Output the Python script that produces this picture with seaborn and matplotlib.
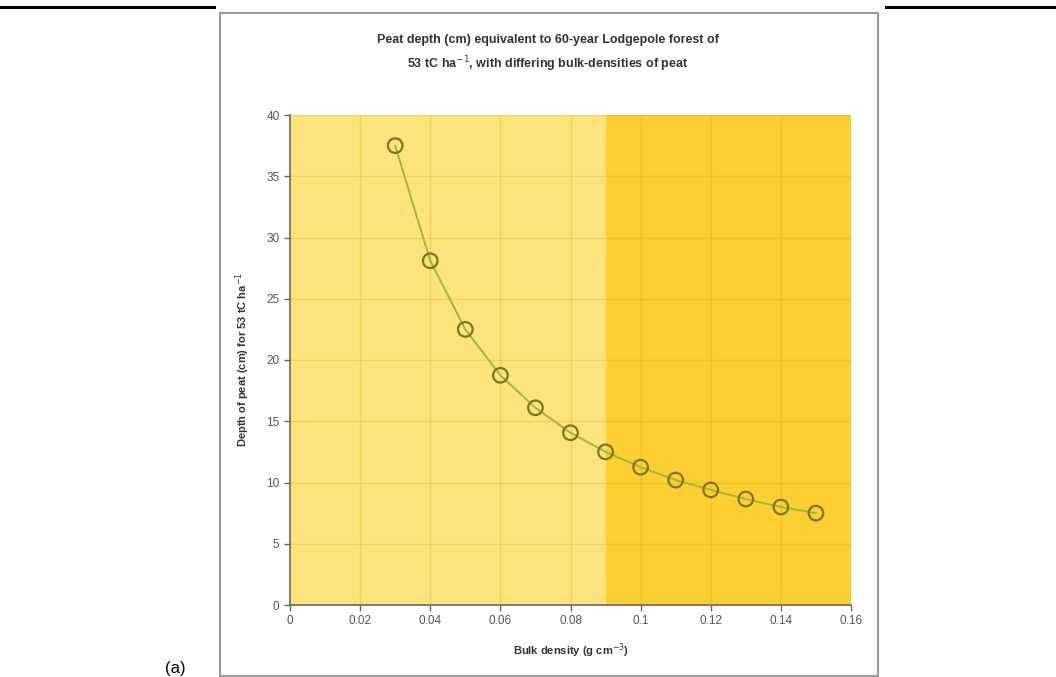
import matplotlib
matplotlib.use("Agg")
import matplotlib.pyplot as plt
import seaborn as sns
import pandas as pd
from matplotlib.patches import Rectangle
from matplotlib.lines import Line2D

# values
bulk_density = [0.03, 0.04, 0.05, 0.06, 0.07, 0.08, 0.09, 0.10, 0.11, 0.12, 0.13, 0.14, 0.15]
peat_depth = [37.5, 28.1, 22.5, 18.75, 16.1, 14.06, 12.5, 11.25, 10.2, 9.4, 8.65, 8.0, 7.5]
x_ticks = [0, 0.02, 0.04, 0.06, 0.08, 0.1, 0.12, 0.14, 0.16]
x_tick_labels = ["0", "0.02", "0.04", "0.06", "0.08", "0.1", "0.12", "0.14", "0.16"]
y_ticks = [0, 5, 10, 15, 20, 25, 30, 35, 40]
shade_split = 0.09

sns.set_theme(style="white")
plt.rcParams["font.family"] = ["Liberation Sans", "DejaVu Sans"]

df = pd.DataFrame({"bd": bulk_density, "depth": peat_depth})

fig = plt.figure(figsize=(10.56, 6.77), dpi=100)
W, H = 1056, 677

# page rule and chart frame
fig.add_artist(Line2D([0, 1], [1 - 6.5 / H, 1 - 6.5 / H], color="black", lw=2.2,
                      transform=fig.transFigure, zorder=0))
fig.add_artist(Rectangle((216 / W, 0), (885 - 216) / W, 1 - 3 / H, transform=fig.transFigure,
                         facecolor="white", edgecolor="none", zorder=1))
fig.add_artist(Rectangle((220 / W, 1 / H), (878 - 220) / W, (676 - 13) / H, transform=fig.transFigure,
                         facecolor="none", edgecolor="#9a9a9a", lw=1.5, zorder=2))
fig.text(165 / W, 1 - 668 / H, "(a)", fontsize=12, color="black", va="center", ha="left")

ax = fig.add_axes([290 / W, 1 - 605 / H, (851 - 290) / W, (605 - 115) / H])
ax.set_zorder(3)
ax.set_facecolor("none")

ax.axvspan(0, shade_split, color="#fde37c", lw=0, zorder=0)
ax.axvspan(shade_split, 0.16, color="#fecf32", lw=0, zorder=0)

sns.lineplot(data=df, x="bd", y="depth", ax=ax, color="#9cba36", lw=1.4, zorder=3)
sns.scatterplot(data=df, x="bd", y="depth", ax=ax, s=110, marker="o",
                facecolor="none", edgecolor="#7d7420", linewidth=1.6, zorder=4)

ax.set_xlim(0, 0.16)
ax.set_ylim(0, 40)
ax.set_xticks(x_ticks)
ax.set_xticklabels(x_tick_labels)
ax.set_yticks(y_ticks)
ax.grid(True, color="#c9a300", alpha=0.25, lw=1.0)
ax.set_axisbelow(False)
for g in ax.get_xgridlines() + ax.get_ygridlines():
    g.set_zorder(1)

for s in ["top", "right"]:
    ax.spines[s].set_visible(False)
for s in ["left", "bottom"]:
    ax.spines[s].set_color("#666666")
    ax.spines[s].set_linewidth(1.2)
ax.tick_params(axis="both", colors="#666666", labelcolor="#555555", labelsize=8.5,
               length=4, width=1, direction="out", left=True, bottom=True)

ax.set_xlabel("Bulk density (g cm$^{-3}$)", fontsize=8, fontweight="bold", color="#333333", labelpad=10)
ax.set_ylabel("Depth of peat (cm) for 53 tC ha$^{-1}$", fontsize=8, fontweight="bold", color="#333333", labelpad=10)

fig.text(548 / W, 1 - 54 / H,
         "Peat depth (cm) equivalent to 60-year Lodgepole forest of\n53 tC ha$^{-1}$, with differing bulk-densities of peat",
         ha="center", va="center", fontsize=9, fontweight="bold", color="#333333", linespacing=1.55, zorder=5)

fig.savefig("out.png", dpi=100)
